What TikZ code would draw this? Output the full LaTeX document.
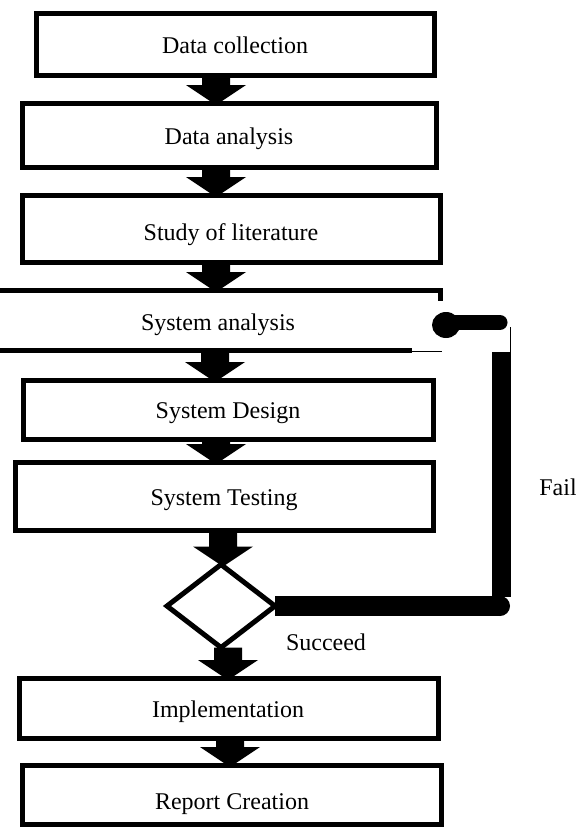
\documentclass[tikz,border=0pt]{standalone}
\usepackage{fontspec}
\setmainfont{Liberation Serif}
\usetikzlibrary{calc,fit,shapes.geometric}

% Block arrow: #1 = x position (pt), #2 = start anchor, #3 = tip anchor
\newcommand\blockarrow[3]{%
  \fill let \p1=(#2), \p2=(#3) in
    ({#1pt-14pt},{\y1}) -- ({#1pt+14pt},{\y1}) --
    ({#1pt+14pt},{\y2+18pt}) -- ({#1pt+30pt},{\y2+18pt}) --
    ({#1pt},{\y2-2pt}) --
    ({#1pt-30pt},{\y2+18pt}) -- ({#1pt-14pt},{\y2+18pt}) -- cycle;}

\begin{document}
\begin{tikzpicture}[x=1pt,y=-1pt,
  stage/.style={draw, line width=5pt, inner sep=0pt, outer sep=0pt},
  stagetext/.style={font=\fontsize{24}{28}\selectfont, anchor=base, inner sep=0pt},
  loopline/.style={line width=20pt},
  ]
\useasboundingbox (0,0) rectangle (576,828);
\fill[white] (0,0) rectangle (576,828);

% process boxes
\node[stage, fit={(36,13) (434,75)}]   (s1) {};
\node[stage, fit={(22,103) (436,167)}] (s2) {};
\node[stage, fit={(22,195) (440,262)}] (s3) {};
\node[inner sep=0pt, outer sep=0pt, fit={(-4,290) (440,350)}] (s4) {};
\node[stage, fit={(23,380) (433,439)}] (s5) {};
\node[stage, fit={(15,462) (433,530)}] (s6) {};
\node[stage, fit={(19,678) (438,738)}] (s7) {};
\node[stage, fit={(22,765) (441,824)}] (s8) {};

% the System analysis box, with its broken right side
\draw[line width=5pt] (s4.south west) -- (s4.north west) -- (s4.north east) -- ++(0,11);
\draw[line width=5pt] (s4.south west) -- (412,350);
\draw[line width=1pt] (412,351) -- (442,351);

% box texts
\node[stagetext] (t1) at (235,53)  {Data collection};
\node[stagetext] (t2) at (229,144) {Data analysis};
\node[stagetext] (t3) at (231,240) {Study of literature};
\node[stagetext] (t4) at (218,330) {System analysis};
\node[stagetext] (t5) at (228,418) {System Design};
\node[stagetext] (t6) at (224,505) {System Testing};
\node[stagetext] (t7) at (228,717) {Implementation};
\node[stagetext] (t8) at (232,809) {Report Creation};

% decision
\node[draw, diamond, line width=5pt, inner sep=0pt, outer sep=0pt,
      minimum width=108pt, minimum height=83pt] (dec) at (221,606) {};

% flow arrows
\blockarrow{216}{s1.south}{s2.north}
\blockarrow{216}{s2.south}{s3.north}
\blockarrow{216}{s3.south}{s4.north}
\blockarrow{215}{s4.south}{s5.north}
\blockarrow{216}{s5.south}{s6.north}
\blockarrow{223}{s6.south}{dec.north}
\blockarrow{228}{dec.south}{s7.north}
\blockarrow{230}{s7.south}{s8.north}

% Fail loop back to System analysis
\coordinate (lc) at (500,606);
\coordinate (lt) at (501,352);
\coordinate (lb) at (501,597);
\coordinate (ar) at (500,322.5);
\coordinate (al) at (455,322.5);
\draw[loopline] (dec.east) -- (lc);
\fill (lc) circle (10pt);
\draw[line width=19pt] (lt) -- (lb);
\draw[line width=1pt] (510.5,327) -- (510.5,352);
\draw[line width=15pt, line cap=round] (ar) -- (al);
\fill (446,325) ellipse [x radius=14pt, y radius=13pt];

% branch labels
\node[stagetext] (fail) at (558,495) {Fail};
\node[stagetext] (succ) at (326,650) {Succeed};
\end{tikzpicture}
\end{document}
